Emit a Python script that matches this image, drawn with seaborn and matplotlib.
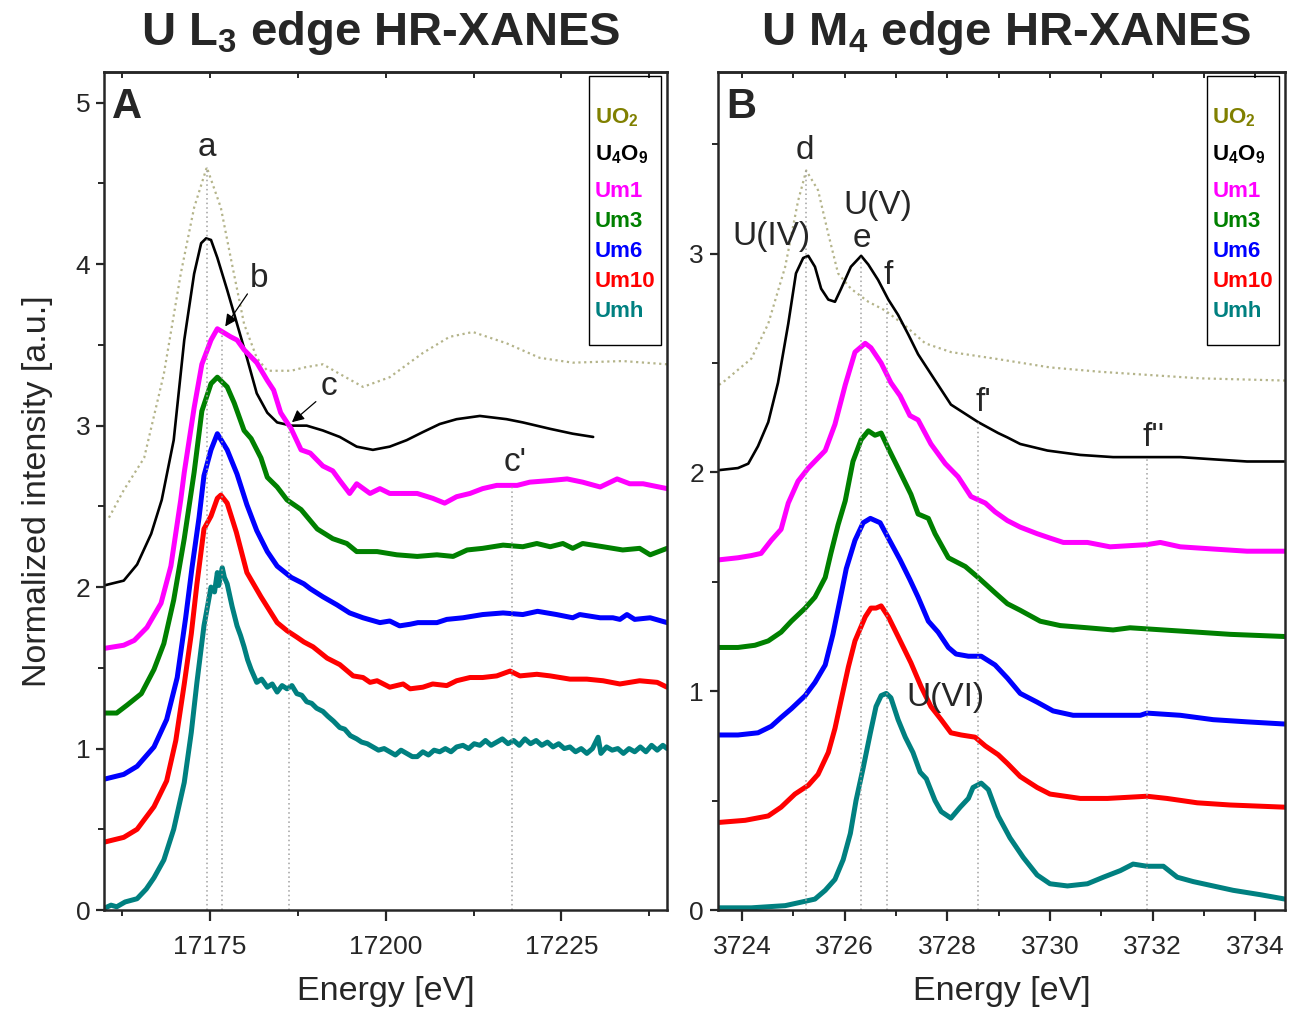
import matplotlib
matplotlib.use("Agg")
import matplotlib.pyplot as plt
import matplotlib.ticker as mticker
from matplotlib.patches import Rectangle
import seaborn as sns

# ---- Panel A : U L3 edge (energy in eV, normalized intensity, stacked) ----
a_uo2_e = [17160.7, 17162.8, 17165.7, 17168.5, 17170.9, 17172.8, 17174.6, 17176.6, 17178.0,
           17179.9, 17181.7, 17183.2, 17186.6, 17188.4, 17191.1, 17193.5, 17196.8, 17200.6,
           17205.3, 17209.1, 17212.4, 17217.2, 17221.9, 17226.6, 17233.7, 17240.0]
a_uo2_y = [2.43, 2.60, 2.80, 3.32, 3.94, 4.35, 4.60, 4.35, 4.04, 3.63, 3.42, 3.34, 3.34, 3.36,
           3.38, 3.32, 3.24, 3.30, 3.45, 3.55, 3.58, 3.51, 3.42, 3.39, 3.40, 3.38]

a_u4o9_e = [17160.0, 17162.8, 17164.7, 17166.7, 17168.2, 17169.9, 17171.4, 17172.8, 17173.8,
            17174.5, 17175.2, 17176.1, 17177.5, 17178.9, 17180.3, 17181.7, 17183.2, 17184.6,
            17186.6, 17188.8, 17191.1, 17193.5, 17195.9, 17198.2, 17200.6, 17203.0, 17205.3,
            17207.7, 17210.1, 17213.4, 17217.2, 17219.5, 17223.4, 17226.6, 17229.5]
a_u4o9_y = [2.01, 2.04, 2.14, 2.33, 2.54, 2.91, 3.53, 3.94, 4.13, 4.16, 4.15, 4.04, 3.84, 3.63,
            3.42, 3.20, 3.08, 3.02, 3.00, 3.00, 2.97, 2.93, 2.87, 2.85, 2.87, 2.91, 2.96, 3.01,
            3.04, 3.06, 3.04, 3.02, 2.98, 2.95, 2.93]

a_um1_e = [17160.0, 17162.8, 17164.3, 17166.1, 17168.1, 17169.5, 17170.9, 17171.4, 17172.8,
           17173.9, 17175.2, 17176.1, 17178.0, 17178.9, 17179.9, 17181.7, 17183.2, 17184.1,
           17185.1, 17186.6, 17188.0, 17189.3, 17191.1, 17192.5, 17193.5, 17194.9, 17195.9,
           17197.8, 17199.2, 17200.6, 17202.0, 17204.5, 17206.7, 17208.4, 17210.1, 17212.0,
           17213.8, 17215.8, 17218.7, 17220.5, 17223.4, 17225.8, 17228.0, 17230.5, 17232.9,
           17234.7, 17236.6, 17240.0]
a_um1_y = [1.62, 1.64, 1.67, 1.75, 1.90, 2.13, 2.54, 2.71, 3.11, 3.38, 3.53, 3.60, 3.55, 3.53,
           3.47, 3.39, 3.28, 3.22, 3.08, 2.98, 2.85, 2.83, 2.75, 2.72, 2.66, 2.58, 2.64, 2.58,
           2.61, 2.58, 2.58, 2.58, 2.55, 2.52, 2.56, 2.58, 2.61, 2.63, 2.63, 2.65, 2.66, 2.67,
           2.65, 2.62, 2.67, 2.64, 2.64, 2.61]

a_um3_e = [17160.0, 17161.8, 17163.3, 17165.3, 17167.1, 17168.5, 17169.9, 17171.4, 17172.8,
           17173.9, 17175.2, 17176.1, 17177.5, 17178.5, 17179.9, 17180.9, 17182.3, 17183.2,
           17184.6, 17186.0, 17188.0, 17190.3, 17192.5, 17194.5, 17195.9, 17198.8, 17201.6,
           17204.5, 17207.3, 17209.6, 17211.6, 17213.8, 17216.7, 17219.5, 17221.5, 17223.4,
           17225.2, 17226.6, 17228.0, 17230.9, 17233.7, 17236.1, 17237.6, 17240.0]
a_um3_y = [1.22, 1.22, 1.27, 1.34, 1.49, 1.65, 1.92, 2.30, 2.71, 3.09, 3.26, 3.30, 3.24, 3.14,
           2.97, 2.92, 2.80, 2.68, 2.62, 2.54, 2.48, 2.36, 2.30, 2.27, 2.22, 2.22, 2.20, 2.19,
           2.20, 2.19, 2.23, 2.24, 2.26, 2.25, 2.27, 2.25, 2.27, 2.24, 2.27, 2.25, 2.23, 2.24,
           2.20, 2.24]

a_um6_e = [17160.0, 17162.8, 17164.7, 17167.1, 17168.9, 17170.4, 17171.6, 17172.5, 17173.5,
           17174.2, 17175.2, 17176.1, 17177.5, 17178.9, 17180.3, 17181.7, 17183.2, 17184.6,
           17186.6, 17188.4, 17189.3, 17191.1, 17193.1, 17194.9, 17196.8, 17199.2, 17200.6,
           17202.0, 17203.5, 17204.6, 17207.3, 17208.7, 17211.0, 17213.8, 17216.7, 17219.5,
           17221.6, 17224.3, 17226.6, 17227.6, 17230.5, 17232.3, 17233.3, 17234.3, 17235.4,
           17237.6, 17240.0]
a_um6_y = [0.81, 0.84, 0.89, 1.01, 1.18, 1.44, 1.81, 2.12, 2.43, 2.69, 2.85, 2.95, 2.85, 2.70,
           2.51, 2.35, 2.22, 2.13, 2.06, 2.02, 1.99, 1.94, 1.89, 1.84, 1.81, 1.78, 1.79, 1.76,
           1.77, 1.78, 1.78, 1.80, 1.81, 1.83, 1.84, 1.83, 1.85, 1.83, 1.81, 1.83, 1.81, 1.81,
           1.80, 1.83, 1.80, 1.81, 1.78]

a_um10_e = [17160.0, 17162.8, 17164.7, 17167.1, 17168.9, 17170.2, 17171.4, 17172.4, 17173.2,
            17174.2, 17175.2, 17176.1, 17176.6, 17177.5, 17178.8, 17180.3, 17182.3, 17184.6,
            17186.0, 17187.4, 17188.4, 17189.7, 17191.7, 17193.5, 17195.4, 17196.8, 17197.8,
            17198.8, 17200.6, 17202.5, 17203.5, 17205.3, 17206.7, 17208.7, 17210.1, 17212.0,
            17213.8, 17215.8, 17217.7, 17219.1, 17221.5, 17223.4, 17226.2, 17228.6, 17230.9,
            17233.3, 17236.1, 17238.6, 17240.0]
a_um10_y = [0.42, 0.45, 0.50, 0.64, 0.80, 1.05, 1.40, 1.71, 2.02, 2.36, 2.44, 2.55, 2.57, 2.52,
            2.34, 2.09, 1.94, 1.78, 1.73, 1.69, 1.66, 1.63, 1.56, 1.52, 1.45, 1.44, 1.41, 1.42,
            1.38, 1.40, 1.37, 1.38, 1.40, 1.39, 1.42, 1.44, 1.44, 1.45, 1.48, 1.45, 1.46, 1.45,
            1.43, 1.43, 1.42, 1.40, 1.42, 1.41, 1.38]

a_umh_e = [17160.0, 17161.0, 17161.8, 17163.0, 17164.7, 17166.0, 17167.1, 17168.5, 17169.9,
           17171.4, 17172.4, 17173.2, 17174.2, 17175.2, 17175.7, 17176.1, 17176.3, 17176.8,
           17177.1, 17177.5, 17178.2, 17178.9, 17179.4, 17179.9, 17180.4, 17180.9, 17181.7,
           17182.4, 17183.2, 17183.9, 17184.6, 17185.3, 17186.0, 17186.7, 17187.4, 17188.1,
           17188.8, 17189.5, 17190.2, 17191.1, 17191.8, 17192.6, 17193.5, 17194.2, 17195.0,
           17195.9, 17196.6, 17197.4, 17198.2, 17199.0, 17199.8, 17200.6, 17201.4, 17202.2,
           17203.0, 17203.8, 17204.5, 17205.3, 17206.1, 17206.9, 17207.7, 17208.5, 17209.3,
           17210.1, 17211.0, 17211.8, 17212.6, 17213.4, 17214.2, 17215.0, 17215.8, 17216.6,
           17217.4, 17218.2, 17219.0, 17219.8, 17220.6, 17221.4, 17222.2, 17223.0, 17223.8,
           17224.6, 17225.4, 17226.2, 17227.0, 17227.8, 17228.6, 17229.4, 17230.2, 17230.6,
           17231.4, 17232.2, 17233.0, 17233.8, 17234.6, 17235.4, 17236.2, 17237.0, 17237.8,
           17238.6, 17239.4, 17240.0]
a_umh_y = [0.01, 0.03, 0.02, 0.05, 0.07, 0.13, 0.20, 0.31, 0.50, 0.79, 1.10, 1.41, 1.76, 2.00,
           1.97, 2.09, 2.01, 2.12, 2.06, 2.02, 1.88, 1.76, 1.70, 1.63, 1.55, 1.49, 1.41, 1.43,
           1.38, 1.40, 1.35, 1.39, 1.37, 1.39, 1.34, 1.33, 1.29, 1.28, 1.25, 1.23, 1.20, 1.17,
           1.13, 1.12, 1.08, 1.06, 1.04, 1.03, 1.01, 0.99, 1.00, 0.98, 0.96, 0.99, 0.97, 0.95,
           0.95, 0.98, 0.96, 0.99, 0.98, 1.00, 0.98, 1.01, 1.02, 1.00, 1.03, 1.02, 1.05, 1.02,
           1.04, 1.06, 1.03, 1.05, 1.02, 1.06, 1.03, 1.05, 1.02, 1.04, 1.01, 1.03, 1.00, 1.01,
           0.98, 1.00, 0.97, 1.00, 1.07, 0.97, 1.01, 0.99, 1.00, 0.97, 1.00, 0.98, 1.01, 0.98,
           1.02, 0.99, 1.02, 1.00]

# ---- Panel B : U M4 edge ----
b_uo2_e = [3723.55, 3723.67, 3724.18, 3724.51, 3724.84, 3725.09, 3725.25, 3725.48, 3725.68,
           3725.87, 3726.12, 3726.46, 3726.79, 3727.18, 3727.57, 3728.07, 3728.93, 3730.00,
           3730.98, 3732.93, 3734.58]
b_uo2_y = [2.40, 2.42, 2.52, 2.68, 2.94, 3.24, 3.38, 3.29, 3.09, 2.91, 2.84, 2.78, 2.74, 2.67,
           2.59, 2.55, 2.52, 2.48, 2.46, 2.43, 2.42]

b_u4o9_e = [3723.53, 3723.92, 3724.12, 3724.31, 3724.51, 3724.70, 3724.90, 3725.05, 3725.19,
            3725.29, 3725.42, 3725.54, 3725.68, 3725.81, 3725.93, 3726.12, 3726.32, 3726.46,
            3726.65, 3726.85, 3727.04, 3727.24, 3727.43, 3727.68, 3728.07, 3728.60, 3728.99,
            3729.17, 3729.42, 3729.95, 3730.59, 3731.23, 3731.89, 3732.54, 3733.18, 3733.84,
            3734.58]
b_u4o9_y = [2.01, 2.02, 2.04, 2.12, 2.23, 2.41, 2.68, 2.91, 2.98, 2.99, 2.94, 2.84, 2.79, 2.78,
            2.84, 2.94, 2.99, 2.95, 2.88, 2.79, 2.72, 2.63, 2.54, 2.45, 2.31, 2.23, 2.18, 2.16,
            2.13, 2.10, 2.08, 2.07, 2.07, 2.07, 2.06, 2.05, 2.05]

b_um1_e = [3723.53, 3723.92, 3724.18, 3724.37, 3724.57, 3724.76, 3724.90, 3725.09, 3725.29,
           3725.62, 3725.81, 3726.01, 3726.20, 3726.40, 3726.51, 3726.71, 3726.90, 3727.08,
           3727.27, 3727.43, 3727.68, 3727.96, 3728.21, 3728.46, 3728.74, 3728.93, 3729.17,
           3729.42, 3729.75, 3730.00, 3730.26, 3730.73, 3731.17, 3731.89, 3732.15, 3732.54,
           3733.18, 3733.84, 3734.58]
b_um1_y = [1.60, 1.61, 1.62, 1.63, 1.69, 1.74, 1.86, 1.96, 2.02, 2.10, 2.22, 2.40, 2.55, 2.59,
           2.57, 2.50, 2.41, 2.35, 2.26, 2.24, 2.13, 2.04, 1.98, 1.89, 1.86, 1.82, 1.78, 1.75,
           1.72, 1.70, 1.68, 1.68, 1.66, 1.67, 1.68, 1.66, 1.65, 1.64, 1.64]

b_um3_e = [3723.53, 3723.92, 3724.25, 3724.51, 3724.76, 3724.96, 3725.23, 3725.42, 3725.62,
           3725.73, 3725.87, 3726.01, 3726.16, 3726.32, 3726.46, 3726.59, 3726.71, 3726.85,
           3727.04, 3727.29, 3727.43, 3727.63, 3727.76, 3728.02, 3728.35, 3728.60, 3728.93,
           3729.17, 3729.42, 3729.81, 3730.20, 3730.73, 3731.23, 3731.56, 3732.21, 3732.87,
           3733.51, 3734.58]
b_um3_y = [1.20, 1.20, 1.21, 1.23, 1.27, 1.32, 1.38, 1.43, 1.52, 1.63, 1.76, 1.87, 2.05, 2.15,
           2.19, 2.17, 2.18, 2.11, 2.02, 1.90, 1.81, 1.79, 1.72, 1.61, 1.57, 1.52, 1.45, 1.40,
           1.37, 1.32, 1.30, 1.29, 1.28, 1.29, 1.28, 1.27, 1.26, 1.25]

b_um6_e = [3723.53, 3723.92, 3724.31, 3724.57, 3724.76, 3724.96, 3725.23, 3725.42, 3725.62,
           3725.77, 3725.91, 3726.03, 3726.20, 3726.36, 3726.50, 3726.69, 3726.85, 3727.08,
           3727.27, 3727.43, 3727.63, 3727.82, 3728.02, 3728.17, 3728.41, 3728.66, 3728.93,
           3729.17, 3729.42, 3729.75, 3730.06, 3730.45, 3731.23, 3731.76, 3731.89, 3732.54,
           3733.18, 3733.84, 3734.58]
b_um6_y = [0.80, 0.80, 0.81, 0.84, 0.88, 0.92, 0.98, 1.04, 1.12, 1.26, 1.42, 1.56, 1.69, 1.77,
           1.79, 1.77, 1.70, 1.60, 1.51, 1.43, 1.32, 1.27, 1.20, 1.17, 1.16, 1.16, 1.12, 1.06,
           0.99, 0.95, 0.91, 0.89, 0.89, 0.89, 0.90, 0.89, 0.87, 0.86, 0.85]

b_um10_e = [3723.53, 3724.06, 3724.51, 3724.76, 3725.03, 3725.29, 3725.48, 3725.68, 3725.81,
            3725.93, 3726.07, 3726.20, 3726.40, 3726.51, 3726.61, 3726.71, 3726.85, 3727.04,
            3727.29, 3727.49, 3727.68, 3727.88, 3728.07, 3728.27, 3728.54, 3728.74, 3728.99,
            3729.17, 3729.42, 3729.75, 3730.00, 3730.59, 3731.12, 3731.89, 3732.28, 3732.87,
            3733.51, 3734.58]
b_um10_y = [0.40, 0.41, 0.43, 0.47, 0.53, 0.57, 0.62, 0.72, 0.83, 0.96, 1.11, 1.23, 1.34, 1.38,
            1.38, 1.39, 1.34, 1.25, 1.13, 1.02, 0.93, 0.87, 0.81, 0.80, 0.79, 0.75, 0.71, 0.67,
            0.61, 0.56, 0.53, 0.51, 0.51, 0.52, 0.51, 0.49, 0.48, 0.47]

b_umh_e = [3723.53, 3724.18, 3724.84, 3725.23, 3725.42, 3725.62, 3725.81, 3725.97, 3726.11,
           3726.22, 3726.36, 3726.50, 3726.61, 3726.71, 3726.81, 3726.90, 3727.04, 3727.18,
           3727.33, 3727.47, 3727.59, 3727.76, 3727.88, 3728.07, 3728.25, 3728.41, 3728.50,
           3728.66, 3728.80, 3728.99, 3729.22, 3729.48, 3729.75, 3730.00, 3730.34, 3730.73,
           3731.04, 3731.37, 3731.62, 3731.89, 3732.21, 3732.48, 3732.79, 3733.18, 3733.57,
           3734.10, 3734.58]
b_umh_y = [0.01, 0.01, 0.02, 0.04, 0.05, 0.09, 0.14, 0.23, 0.35, 0.50, 0.65, 0.81, 0.93, 0.98,
           0.99, 0.97, 0.87, 0.79, 0.72, 0.63, 0.60, 0.50, 0.45, 0.42, 0.47, 0.51, 0.56, 0.58,
           0.55, 0.43, 0.33, 0.24, 0.16, 0.12, 0.11, 0.12, 0.15, 0.18, 0.21, 0.20, 0.20, 0.15,
           0.13, 0.11, 0.09, 0.07, 0.05]

# feature markers (dotted guide lines): energy and height
a_guide_e = [17174.7, 17176.8, 17186.3, 17218.0]
a_guide_top = [4.60, 3.60, 3.00, 2.64]
b_guide_e = [3725.25, 3726.32, 3726.83, 3728.60, 3731.90]
b_guide_top = [3.38, 2.99, 2.78, 2.23, 2.07]

names = ["UO2", "U4O9", "Um1", "Um3", "Um6", "Um10", "Umh"]
legend_labels = ["UO$_\\mathbf{2}$", "U$_\\mathbf{4}$O$_\\mathbf{9}$",
                 "Um1", "Um3", "Um6", "Um10", "Umh"]
colors = ["#808000", "black", "#ff00ff", "#008000", "#0000ff", "#ff0000", "#008080"]

panel_a = [(a_uo2_e, a_uo2_y), (a_u4o9_e, a_u4o9_y), (a_um1_e, a_um1_y), (a_um3_e, a_um3_y),
           (a_um6_e, a_um6_y), (a_um10_e, a_um10_y), (a_umh_e, a_umh_y)]
panel_b = [(b_uo2_e, b_uo2_y), (b_u4o9_e, b_u4o9_y), (b_um1_e, b_um1_y), (b_um3_e, b_um3_y),
           (b_um6_e, b_um6_y), (b_um10_e, b_um10_y), (b_umh_e, b_umh_y)]

sns.set_style("ticks")
plt.rcParams['font.family'] = ['Liberation Sans', 'DejaVu Sans']
plt.rcParams['mathtext.fontset'] = 'custom'
plt.rcParams['mathtext.rm'] = 'Liberation Sans'
plt.rcParams['mathtext.bf'] = 'Liberation Sans:bold'
plt.rcParams['axes.linewidth'] = 1.8

fig = plt.figure(figsize=(12.89, 10.09), dpi=100)
ax_a = fig.add_axes([0.0807, 0.0981, 0.4368, 0.8305])
ax_b = fig.add_axes([0.5570, 0.0981, 0.4399, 0.8305])


def draw_panel(ax, series):
    for (e, y), name, col in zip(series, names, colors):
        if name == "UO2":
            sns.lineplot(x=e, y=y, ax=ax, color="#b4b48a", lw=1.6, linestyle=(0, (1, 1.6)),
                         sort=False, estimator=None)
        elif name == "U4O9":
            sns.lineplot(x=e, y=y, ax=ax, color=col, lw=1.9, sort=False, estimator=None)
        else:
            sns.lineplot(x=e, y=y, ax=ax, color=col, lw=3.6, sort=False, estimator=None)


def style_axes(ax):
    ax.tick_params(axis='both', which='major', labelsize=19, width=1.6)
    ax.tick_params(axis='x', which='major', length=8, pad=10, direction='out')
    ax.tick_params(axis='x', which='minor', length=4, width=1.4, direction='out')
    ax.tick_params(axis='y', which='major', length=6, pad=4, direction='out')
    ax.tick_params(axis='y', which='minor', length=4, width=1.4, direction='out')
    ax.yaxis.set_minor_locator(mticker.MultipleLocator(0.5))
    ax.yaxis.set_major_locator(mticker.MultipleLocator(1))
    ax.set_xlabel("Energy [eV]", fontsize=24.5, labelpad=12)
    # mirrored ticks on the top spine, pointing inwards
    top = ax.secondary_xaxis('top')
    top.set_xticks(ax.get_xticks(minor=False))
    top.set_xticks(ax.get_xticks(minor=True), minor=True)
    top.tick_params(which='both', direction='in', length=4, width=1.4, labeltop=False)
    top.tick_params(which='major', labeltop=False)
    top.set_xticklabels([])


def legend_box(ax):
    ax.add_patch(Rectangle((0.862, 0.674), 0.127, 0.321, transform=ax.transAxes,
                           fill=False, edgecolor="black", lw=1.0, zorder=5))
    baselines = [123, 160, 197, 227, 257, 287, 317]
    for lab, col, yb in zip(legend_labels, colors, baselines):
        ax.text(0.872, (910 - yb) / 838, lab, transform=ax.transAxes, color=col,
                fontsize=16, fontweight='bold', va='baseline', ha='left', zorder=6)


# Panel A
draw_panel(ax_a, panel_a)
ax_a.vlines(a_guide_e, 0, a_guide_top, colors="#a0a0a0", linestyles=(0, (1, 2)), lw=1.1)
ax_a.set_xlim(17160, 17240)
ax_a.set_ylim(0, 5.19)
ax_a.set_xticks([17175, 17200, 17225])
ax_a.xaxis.set_minor_locator(mticker.FixedLocator([17162.5, 17187.5, 17212.5, 17237.5]))
style_axes(ax_a)
ax_a.set_ylabel("Normalized intensity [a.u.]", fontsize=24.5, labelpad=16)
legend_box(ax_a)
ax_a.text(0.015, 0.982, "A", transform=ax_a.transAxes, fontsize=30, fontweight='bold',
          va='top', ha='left')
ax_a.text(17174.6, 4.72, "a", fontsize=24, ha='center', va='center')
ax_a.text(17182.0, 3.91, "b", fontsize=24, ha='center', va='center')
ax_a.text(17192.0, 3.24, "c", fontsize=24, ha='center', va='center')
ax_a.text(17218.4, 2.77, "c'", fontsize=24, ha='center', va='center')
ax_a.annotate("", xy=(17177.0, 3.60), xytext=(17180.6, 3.83),
              arrowprops=dict(arrowstyle="-|>", color="black", lw=0.9, mutation_scale=18))
ax_a.annotate("", xy=(17186.4, 3.01), xytext=(17190.4, 3.16),
              arrowprops=dict(arrowstyle="-|>", color="black", lw=0.9, mutation_scale=18))

# Panel B
draw_panel(ax_b, panel_b)
ax_b.vlines(b_guide_e, 0, b_guide_top, colors="#a0a0a0", linestyles=(0, (1, 2)), lw=1.1)
ax_b.set_xlim(3723.53, 3734.58)
ax_b.set_ylim(0, 3.83)
ax_b.set_xticks([3724, 3726, 3728, 3730, 3732, 3734])
ax_b.set_xticks([3725, 3727, 3729, 3731, 3733], minor=True)
ax_b.xaxis.set_major_formatter(mticker.FormatStrFormatter('%d'))
style_axes(ax_b)
ax_b.set_ylabel("")
legend_box(ax_b)
ax_b.text(0.015, 0.982, "B", transform=ax_b.transAxes, fontsize=30, fontweight='bold',
          va='top', ha='left')
ax_b.text(3725.23, 3.47, "d", fontsize=24, ha='center', va='center')
ax_b.text(3724.58, 3.08, "U(IV)", fontsize=24, ha='center', va='center')
ax_b.text(3726.64, 3.22, "U(V)", fontsize=24, ha='center', va='center')
ax_b.text(3726.34, 3.07, "e", fontsize=24, ha='center', va='center')
ax_b.text(3726.85, 2.90, "f", fontsize=24, ha='center', va='center')
ax_b.text(3728.70, 2.32, "f'", fontsize=24, ha='center', va='center')
ax_b.text(3732.02, 2.16, "f''", fontsize=24, ha='center', va='center')
ax_b.text(3727.96, 0.97, "U(VI)", fontsize=24, ha='center', va='center')

fig.text(381 / 1289, 1 - 45 / 1009, "U L$_\\mathbf{3}$ edge HR-XANES", fontsize=34,
         fontweight='bold', ha='center', va='baseline')
fig.text(1006 / 1289, 1 - 45 / 1009, "U M$_\\mathbf{4}$ edge HR-XANES", fontsize=34,
         fontweight='bold', ha='center', va='baseline')

fig.savefig("out.png", dpi=100)
